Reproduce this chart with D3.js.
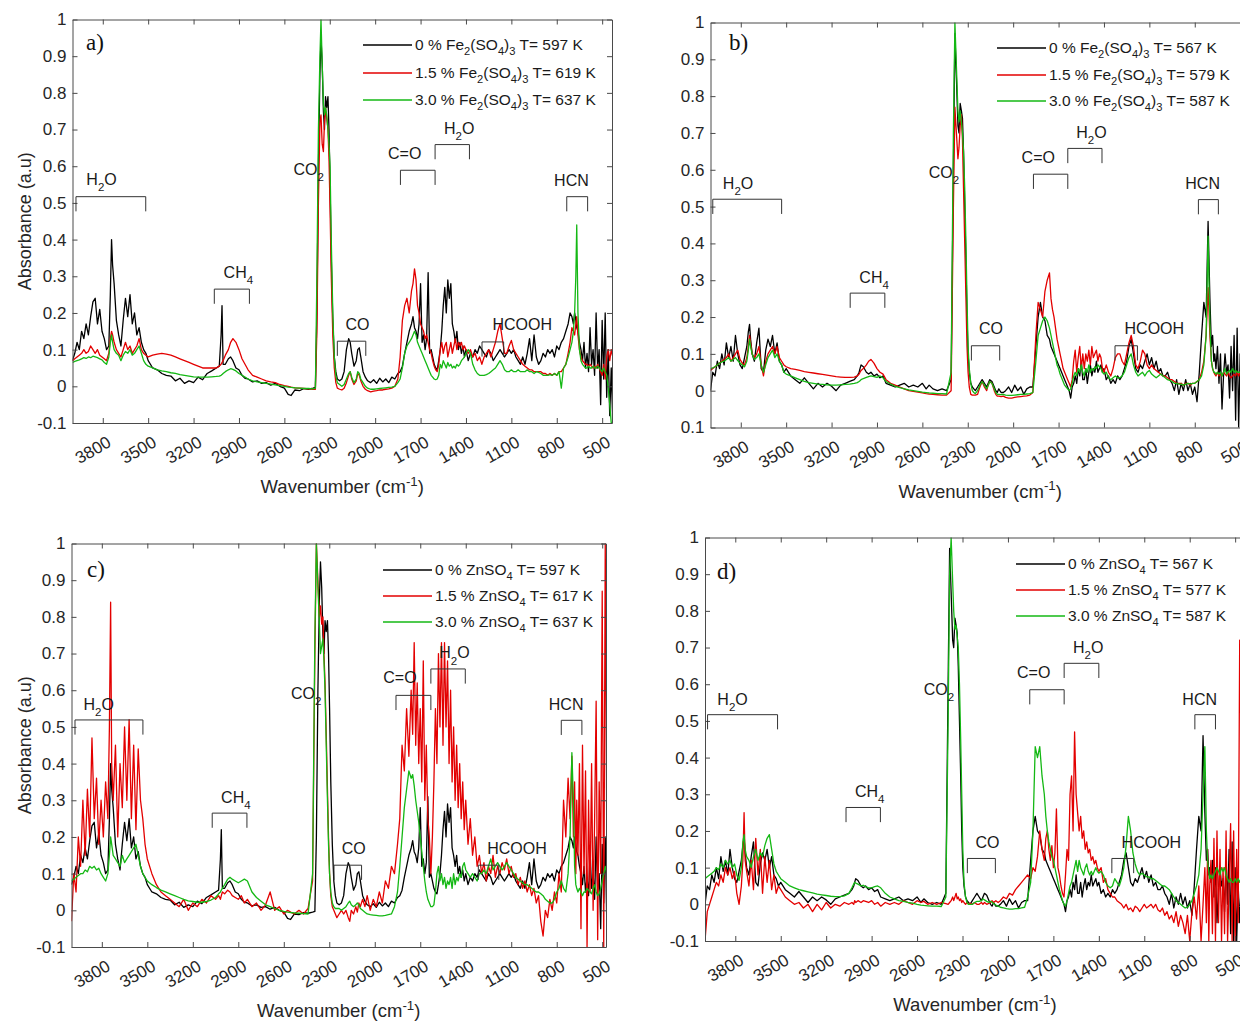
<!DOCTYPE html>
<html><head><meta charset="utf-8">
<script src="https://cdn.jsdelivr.net/npm/d3@7"></script>
<style>
body{margin:0;background:#fff}
text{white-space:pre}
</style>
</head><body>
<svg id="chart" width="1240" height="1021" xmlns="http://www.w3.org/2000/svg" font-family='"Liberation Sans", Arial, Helvetica, sans-serif'></svg>
<script>
// ---------------- DATA ----------------
const wavenumber = [
4000,3985,3970,3955,3940,3925,3910,3895,3880,3865,
3850,3835,3820,3805,3790,3775,3760,3750,3742,3735,
3725,3710,3695,3680,3665,3650,3635,3620,3605,3590,
3575,3560,3545,3530,3515,3500,3470,3440,3410,3380,
3350,3320,3290,3260,3230,3200,3170,3140,3110,3080,
3050,3030,3018,3012,3005,2990,2970,2955,2940,2920,
2900,2880,2860,2840,2810,2780,2750,2720,2690,2660,
2630,2600,2575,2555,2530,2500,2470,2440,2410,2395,
2385,2375,2365,2358,2350,2342,2335,2328,2320,2312,
2305,2298,2290,2280,2270,2260,2250,2235,2220,2205,
2190,2175,2165,2155,2140,2125,2115,2105,2095,2080,
2065,2050,2030,2010,1990,1970,1950,1930,1910,1890,
1870,1850,1835,1820,1805,1790,1775,1760,1750,1740,
1730,1720,1710,1700,1690,1680,1670,1660,1650,1640,
1630,1620,1610,1600,1590,1580,1570,1560,1550,1540,
1530,1520,1510,1500,1490,1480,1470,1460,1450,1440,
1430,1420,1410,1400,1385,1370,1355,1340,1325,1310,
1295,1280,1265,1250,1235,1220,1205,1190,1175,1160,
1145,1130,1115,1100,1085,1070,1055,1040,1025,1010,
995,980,965,950,935,920,905,890,875,860,
845,830,815,800,785,770,755,740,725,712,
700,690,682,674,668,660,650,640,630,620,
610,600,590,580,570,560,550,540,530,520,
510,500,490,480,470,460,450,440,430,420];

// a) 0 % Fe2(SO4)3, T = 597 K  (same run as 0 % ZnSO4, 597 K)
const fe0_597 = [
0.07,0.09,0.12,0.10,0.15,0.13,0.17,0.14,0.19,0.23,
0.24,0.17,0.21,0.15,0.13,0.10,0.11,0.25,0.40,0.33,
0.28,0.18,0.14,0.11,0.18,0.24,0.19,0.25,0.17,0.20,
0.14,0.16,0.12,0.10,0.09,0.07,0.05,0.045,0.035,0.03,
0.028,0.015,0.022,0.008,0.015,0.01,0.025,0.018,0.035,0.042,
0.05,0.055,0.14,0.22,0.06,0.06,0.075,0.08,0.07,0.05,
0.045,0.03,0.022,0.02,0.012,0.015,0.008,0.01,0.003,0.008,
0.0,-0.005,-0.022,-0.025,-0.01,-0.012,-0.006,-0.008,-0.005,-0.003,
0.2,0.6,0.85,0.95,0.88,0.75,0.7,0.79,0.76,0.79,
0.7,0.55,0.35,0.18,0.08,0.04,0.02,0.015,0.02,0.04,
0.10,0.13,0.12,0.09,0.055,0.07,0.10,0.105,0.08,0.04,
0.025,0.015,0.01,0.018,0.008,0.022,0.012,0.02,0.01,0.025,
0.02,0.035,0.04,0.055,0.09,0.12,0.15,0.17,0.19,0.16,
0.15,0.13,0.17,0.28,0.12,0.14,0.10,0.13,0.31,0.09,
0.10,0.08,0.06,0.05,0.045,0.07,0.10,0.15,0.22,0.27,
0.20,0.29,0.24,0.28,0.17,0.15,0.12,0.15,0.10,0.12,
0.09,0.11,0.08,0.10,0.07,0.09,0.08,0.10,0.09,0.11,
0.10,0.09,0.08,0.10,0.09,0.07,0.08,0.09,0.10,0.09,
0.08,0.09,0.10,0.09,0.10,0.08,0.07,0.06,0.08,0.06,
0.09,0.13,0.07,0.14,0.08,0.06,0.07,0.09,0.08,0.10,
0.09,0.10,0.08,0.11,0.10,0.12,0.13,0.15,0.17,0.20,
0.19,0.17,0.20,0.18,0.16,0.15,0.12,0.10,0.07,0.12,
0.05,0.09,0.04,0.16,0.06,0.10,0.03,0.20,0.05,0.10,
-0.05,0.18,0.02,0.20,-0.03,0.10,-0.08,0.05,-0.10,-0.10];

const fe15_619 = [
0.07,0.075,0.08,0.085,0.09,0.1,0.09,0.095,0.11,0.1,
0.09,0.1,0.085,0.08,0.075,0.07,0.09,0.13,0.15,0.14,
0.12,0.1,0.09,0.08,0.1,0.12,0.1,0.11,0.09,0.1,
0.11,0.13,0.1,0.09,0.085,0.08,0.085,0.088,0.09,0.088,
0.085,0.08,0.075,0.07,0.065,0.06,0.055,0.05,0.05,0.05,
0.05,0.055,0.06,0.065,0.07,0.085,0.1,0.12,0.13,0.12,
0.1,0.075,0.06,0.045,0.03,0.025,0.02,0.015,0.012,0.01,
0.005,0.002,0.0,-0.002,-0.004,-0.005,-0.006,-0.007,-0.008,-0.008,
0.15,0.5,0.72,0.74,0.66,0.64,0.72,0.76,0.73,0.7,
0.62,0.48,0.3,0.14,0.05,0.01,-0.005,-0.008,-0.01,-0.005,
0.01,0.03,0.04,0.02,0.005,0.015,0.035,0.03,0.015,0.0,
-0.008,-0.012,-0.015,-0.013,-0.012,-0.01,-0.01,-0.008,-0.007,-0.005,
0.0,0.02,0.08,0.18,0.22,0.24,0.2,0.26,0.28,0.32,
0.29,0.22,0.2,0.17,0.16,0.15,0.13,0.14,0.12,0.1,
0.09,0.07,0.055,0.045,0.04,0.06,0.1,0.12,0.09,0.11,
0.12,0.08,0.1,0.12,0.09,0.11,0.13,0.1,0.12,0.11,
0.12,0.1,0.11,0.1,0.09,0.1,0.08,0.09,0.07,0.08,
0.06,0.08,0.09,0.1,0.08,0.1,0.12,0.15,0.17,0.13,
0.09,0.09,0.11,0.125,0.1,0.09,0.08,0.07,0.06,0.055,
0.05,0.045,0.045,0.04,0.04,0.04,0.04,0.035,0.035,0.03,
0.035,0.03,0.035,0.03,0.04,0.04,0.05,0.06,0.09,0.12,
0.16,0.15,0.14,0.17,0.19,0.14,0.1,0.08,0.07,0.065,
0.06,0.06,0.055,0.06,0.055,0.05,0.055,0.05,0.06,0.05,
0.04,0.03,0.06,0.02,0.08,0.1,0.07,0.1,0.08,0.08];

const fe30_637 = [
0.065,0.068,0.07,0.072,0.075,0.078,0.076,0.08,0.078,0.082,
0.08,0.078,0.075,0.072,0.065,0.06,0.08,0.12,0.14,0.12,
0.1,0.09,0.085,0.07,0.085,0.095,0.09,0.1,0.085,0.09,
0.1,0.11,0.09,0.07,0.06,0.055,0.05,0.045,0.042,0.04,
0.037,0.035,0.032,0.03,0.028,0.026,0.025,0.025,0.025,0.026,
0.027,0.028,0.03,0.032,0.035,0.04,0.045,0.048,0.046,0.042,
0.035,0.03,0.025,0.02,0.015,0.012,0.01,0.008,0.006,0.004,
0.002,0.0,-0.002,-0.003,-0.004,-0.005,-0.006,-0.006,-0.007,-0.005,
0.3,0.7,0.9,1.0,0.88,0.77,0.74,0.76,0.74,0.7,
0.66,0.6,0.4,0.2,0.08,0.03,0.01,0.005,0.0,0.005,
0.02,0.035,0.04,0.025,0.01,0.02,0.04,0.035,0.02,0.01,
0.0,-0.005,-0.008,-0.008,-0.007,-0.006,-0.005,-0.004,-0.003,-0.002,
0.0,0.01,0.02,0.05,0.09,0.11,0.12,0.13,0.14,0.15,
0.14,0.12,0.11,0.1,0.09,0.08,0.07,0.06,0.05,0.04,
0.03,0.025,0.02,0.018,0.02,0.03,0.06,0.05,0.07,0.06,
0.05,0.065,0.055,0.06,0.05,0.055,0.05,0.06,0.055,0.06,
0.07,0.075,0.08,0.09,0.1,0.09,0.06,0.045,0.035,0.03,
0.03,0.03,0.032,0.035,0.04,0.045,0.05,0.06,0.07,0.06,
0.045,0.04,0.04,0.045,0.04,0.04,0.045,0.04,0.04,0.04,
0.045,0.04,0.04,0.035,0.04,0.038,0.035,0.03,0.03,0.03,
0.032,0.03,0.035,0.03,0.04,-0.005,0.05,0.06,0.08,0.1,
0.12,0.15,0.2,0.3,0.44,0.2,0.1,0.07,0.06,0.055,
0.05,0.05,0.055,0.05,0.05,0.055,0.05,0.05,0.055,0.05,
0.045,0.04,0.05,0.04,0.03,0.0,-0.05,-0.1,-0.1,-0.1];

// b) 0 % Fe2(SO4)3, T = 567 K  (same run as 0 % ZnSO4, 567 K)
const fe0_567 = [
0.0,0.05,0.04,0.08,0.06,0.1,0.07,0.13,0.09,0.12,
0.08,0.15,0.1,0.07,0.06,0.09,0.12,0.16,0.18,0.14,
0.1,0.08,0.13,0.17,0.06,0.05,0.11,0.14,0.12,0.15,
0.1,0.13,0.08,0.07,0.05,0.06,0.04,0.03,0.02,0.035,
0.02,0.005,0.02,0.01,0.02,0.012,0.0,0.015,0.02,0.025,
0.03,0.04,0.05,0.06,0.07,0.065,0.05,0.045,0.05,0.04,
0.045,0.035,0.04,0.02,0.015,0.01,0.015,0.02,0.01,0.015,
0.01,0.02,0.005,0.015,0.005,0.0,0.005,0.0,0.03,0.6,
0.97,0.85,0.72,0.7,0.78,0.76,0.74,0.65,0.5,0.35,
0.2,0.1,0.05,0.02,0.01,0.005,0.0,0.01,0.02,0.03,
0.02,0.01,0.02,0.03,0.025,0.01,0.0,-0.005,0.005,-0.005,
-0.005,0.0,0.01,-0.005,0.015,0.0,0.01,-0.01,0.005,0.01,
0.01,0.12,0.2,0.24,0.2,0.19,0.15,0.14,0.12,0.11,
0.1,0.09,0.08,0.07,0.06,0.05,0.04,0.03,0.02,0.01,
0.0,-0.02,0.01,0.02,0.04,0.02,0.06,0.04,0.08,0.03,
0.03,0.06,0.02,0.05,0.07,0.04,0.06,0.05,0.08,0.05,
0.06,0.07,0.05,0.06,0.03,0.04,0.02,0.03,0.02,0.04,
0.03,0.04,0.06,0.08,0.12,0.14,0.1,0.06,0.05,0.07,
0.06,0.08,0.1,0.07,0.09,0.06,0.08,0.05,0.06,0.04,
0.04,0.05,0.03,0.02,0.0,0.03,-0.01,0.02,0.0,0.03,
0.0,0.02,-0.01,0.01,-0.03,0.05,0.15,0.24,0.2,0.46,
0.25,0.12,0.15,0.08,0.1,0.06,0.12,0.02,0.1,-0.05,
0.04,0.1,0.05,0.07,-0.02,0.12,0.0,0.15,-0.08,0.17,
-0.1,0.1,-0.1,0.05,-0.05,0.06,0.03,0.05,0.04,0.06];

const fe15_579 = [
0.055,0.06,0.065,0.07,0.075,0.08,0.085,0.09,0.1,0.08,
0.09,0.1,0.11,0.085,0.075,0.07,0.09,0.12,0.15,0.13,
0.1,0.09,0.1,0.12,0.07,0.04,0.08,0.1,0.11,0.12,
0.1,0.12,0.09,0.08,0.07,0.065,0.06,0.058,0.055,0.052,
0.05,0.048,0.046,0.044,0.042,0.04,0.038,0.037,0.036,0.036,
0.037,0.04,0.045,0.05,0.055,0.06,0.07,0.08,0.085,0.075,
0.06,0.05,0.045,0.03,0.02,0.015,0.01,0.005,0.0,-0.002,
-0.004,-0.006,-0.008,-0.009,-0.01,-0.011,-0.012,-0.012,0.0,0.5,
0.77,0.7,0.63,0.66,0.72,0.75,0.68,0.55,0.4,0.25,
0.12,0.05,0.01,-0.01,-0.012,-0.012,-0.012,-0.01,0.01,0.025,
0.01,0.0,0.015,0.025,0.02,0.0,-0.01,-0.015,-0.015,-0.016,
-0.015,-0.018,-0.02,-0.02,-0.018,-0.017,-0.016,-0.015,-0.014,-0.012,
-0.005,0.15,0.24,0.22,0.2,0.27,0.3,0.32,0.25,0.22,
0.2,0.17,0.14,0.12,0.1,0.08,0.06,0.05,0.04,0.03,
0.02,0.01,0.03,0.08,0.11,0.05,0.09,0.12,0.06,0.1,
0.06,0.1,0.08,0.11,0.07,0.12,0.09,0.1,0.11,0.08,
0.1,0.09,0.06,0.05,0.07,0.05,0.04,0.06,0.09,0.1,
0.1,0.08,0.07,0.1,0.13,0.15,0.12,0.07,0.06,0.08,
0.11,0.1,0.07,0.06,0.07,0.06,0.055,0.05,0.045,0.04,
0.04,0.035,0.03,0.03,0.025,0.02,0.02,0.02,0.015,0.02,
0.02,0.015,0.02,0.02,0.025,0.03,0.05,0.08,0.15,0.28,
0.15,0.08,0.06,0.05,0.045,0.04,0.05,0.04,0.045,0.04,
0.05,0.045,0.04,0.05,0.04,0.035,0.04,0.045,0.04,0.05,
0.04,0.05,0.04,0.05,0.04,0.05,0.04,0.05,0.04,0.05];

const fe30_587 = [
0.06,0.062,0.065,0.07,0.075,0.078,0.08,0.085,0.09,0.08,
0.085,0.09,0.082,0.075,0.07,0.065,0.08,0.11,0.14,0.12,
0.1,0.085,0.09,0.1,0.07,0.05,0.07,0.09,0.1,0.11,
0.09,0.1,0.08,0.07,0.05,0.045,0.04,0.035,0.03,0.025,
0.022,0.02,0.018,0.017,0.016,0.015,0.015,0.016,0.017,0.018,
0.02,0.022,0.025,0.027,0.03,0.033,0.036,0.038,0.04,0.038,
0.036,0.04,0.035,0.025,0.018,0.012,0.008,0.005,0.002,0.0,
-0.002,-0.004,-0.005,-0.006,-0.007,-0.008,-0.008,-0.009,0.05,0.7,
1.0,0.88,0.76,0.73,0.76,0.73,0.7,0.65,0.55,0.4,
0.25,0.12,0.06,0.02,0.0,-0.005,-0.008,0.0,0.015,0.025,
0.015,0.005,0.015,0.025,0.02,0.005,-0.005,-0.01,-0.01,-0.011,
-0.01,-0.012,-0.013,-0.013,-0.012,-0.011,-0.01,-0.01,-0.009,-0.008,
-0.005,0.08,0.15,0.17,0.19,0.2,0.19,0.17,0.15,0.13,
0.11,0.09,0.07,0.06,0.045,0.035,0.025,0.015,0.01,0.005,
0.0,0.005,0.02,0.04,0.05,0.04,0.06,0.05,0.07,0.05,
0.04,0.06,0.05,0.07,0.05,0.06,0.055,0.065,0.06,0.07,
0.065,0.06,0.05,0.045,0.05,0.035,0.03,0.035,0.04,0.035,
0.035,0.04,0.05,0.07,0.09,0.1,0.07,0.05,0.04,0.045,
0.05,0.04,0.05,0.055,0.045,0.04,0.035,0.04,0.045,0.04,
0.035,0.03,0.028,0.025,0.02,0.02,0.018,0.018,0.015,0.018,
0.02,0.018,0.02,0.02,0.025,0.03,0.04,0.07,0.15,0.42,
0.18,0.08,0.06,0.05,0.05,0.045,0.05,0.045,0.05,0.04,
0.05,0.06,0.045,0.05,0.055,0.05,0.06,0.05,0.055,0.05,
0.05,0.05,0.05,0.05,0.05,0.05,0.05,0.05,0.05,0.05];

// c) ZnSO4 series (0 % run at 597 K is the same measurement as panel a)
const zn0_597 = fe0_597;

const zn15_617 = [
-0.03,0.1,0.05,0.2,0.12,0.3,0.15,0.33,0.2,0.47,
0.25,0.36,0.18,0.3,0.2,0.35,0.25,0.5,0.84,0.4,
0.3,0.45,0.2,0.4,0.28,0.5,0.3,0.52,0.25,0.45,
0.22,0.44,0.3,0.25,0.18,0.14,0.1,0.07,0.05,0.04,
0.03,0.02,0.01,0.03,0.0,0.02,0.01,0.03,0.02,0.04,
0.03,0.04,0.03,0.04,0.05,0.045,0.055,0.05,0.04,0.035,
0.03,0.04,0.02,0.03,0.01,0.02,0.0,0.015,0.05,0.0,
0.01,-0.01,0.0,-0.005,-0.01,0.0,-0.01,0.005,0.08,0.7,
1.0,0.9,0.8,0.83,0.78,0.8,0.7,0.62,0.48,0.33,
0.2,0.1,0.04,0.01,0.0,-0.01,-0.02,-0.01,0.0,-0.01,
0.0,-0.02,-0.03,0.0,-0.01,0.01,-0.005,0.02,0.01,0.03,
0.01,0.04,0.0,0.03,0.01,0.05,0.02,0.08,0.06,0.12,
0.1,0.18,0.25,0.45,0.38,0.55,0.42,0.6,0.48,0.73,
0.45,0.62,0.4,0.55,0.35,0.68,0.3,0.45,0.25,0.2,
0.1,0.2,0.35,0.55,0.4,0.7,0.5,0.73,0.45,0.73,
0.5,0.68,0.4,0.6,0.35,0.5,0.3,0.45,0.28,0.4,
0.25,0.35,0.22,0.3,0.18,0.25,0.15,0.2,0.12,0.15,
0.1,0.13,0.08,0.12,0.1,0.15,0.09,0.12,0.1,0.13,
0.11,0.14,0.1,0.12,0.09,0.1,0.07,0.09,0.06,0.08,
0.05,0.07,0.04,0.06,0.02,0.04,-0.03,-0.07,0.0,-0.02,
0.03,0.0,0.05,0.02,0.1,0.05,0.3,0.2,0.36,0.25,
0.42,0.2,0.35,0.1,0.3,0.15,0.4,-0.05,0.45,0.1,
0.38,-0.1,0.3,0.05,0.4,0.0,0.25,0.57,-0.08,0.35,
0.1,0.87,-0.1,1.0,0.2,0.1,0.1,0.1,0.1,0.1];

const zn30_637 = [
0.08,0.085,0.09,0.095,0.1,0.1,0.11,0.105,0.12,0.115,
0.12,0.11,0.115,0.1,0.09,0.08,0.1,0.15,0.2,0.18,
0.15,0.14,0.13,0.12,0.15,0.13,0.14,0.15,0.16,0.17,
0.18,0.15,0.12,0.1,0.09,0.08,0.07,0.062,0.055,0.05,
0.045,0.04,0.035,0.03,0.026,0.024,0.022,0.022,0.024,0.028,
0.035,0.045,0.05,0.055,0.06,0.07,0.085,0.09,0.085,0.08,
0.075,0.08,0.085,0.08,0.05,0.035,0.025,0.015,0.01,0.005,
0.0,-0.003,-0.005,-0.006,-0.007,-0.008,-0.009,-0.01,0.1,0.75,
1.0,0.88,0.78,0.7,0.72,0.74,0.68,0.6,0.45,0.3,
0.18,0.1,0.05,0.02,0.01,0.005,0.005,0.005,0.0,0.005,
0.01,0.02,0.025,0.015,0.01,0.015,0.02,0.015,0.005,0.0,
-0.005,-0.01,-0.012,-0.013,-0.014,-0.015,-0.015,-0.014,-0.012,-0.01,
0.01,0.05,0.12,0.2,0.28,0.33,0.38,0.36,0.37,0.34,
0.3,0.27,0.24,0.2,0.16,0.12,0.08,0.05,0.03,0.02,
0.01,0.01,0.015,0.05,0.1,0.12,0.08,0.1,0.07,0.09,
0.06,0.08,0.07,0.09,0.06,0.1,0.07,0.09,0.08,0.1,
0.09,0.12,0.13,0.11,0.1,0.09,0.1,0.09,0.08,0.1,
0.1,0.11,0.1,0.12,0.14,0.11,0.12,0.13,0.12,0.11,
0.12,0.13,0.12,0.11,0.1,0.09,0.085,0.08,0.075,0.07,
0.07,0.065,0.06,0.055,0.05,0.05,0.045,0.04,0.03,0.025,
0.02,0.02,0.03,0.05,0.06,0.08,0.06,0.05,0.1,0.2,
0.43,0.3,0.12,0.07,0.06,0.05,0.06,0.05,0.04,0.05,
0.05,0.06,0.055,0.05,0.045,0.06,0.07,0.05,0.04,0.045,
0.06,0.08,0.1,0.12,0.1,0.1,0.1,0.1,0.1,0.1];

// d) ZnSO4 series (0 % run at 567 K is the same measurement as panel b)
const zn0_567 = fe0_567;

const zn15_577 = [
-0.1,-0.02,0.0,0.02,0.04,0.06,0.05,0.08,0.06,0.1,
0.08,0.1,0.07,0.09,0.03,0.0,0.05,0.12,0.25,0.12,
0.09,0.05,0.12,0.04,0.18,0.08,0.15,0.03,0.13,0.06,
0.12,0.04,0.08,0.03,0.05,0.04,0.02,0.01,0.0,0.005,
-0.01,0.0,-0.02,0.0,-0.015,0.005,-0.01,0.0,-0.005,0.005,
0.0,0.005,0.0,0.01,0.005,0.01,0.005,0.01,0.008,0.005,
0.01,0.0,0.005,-0.005,0.005,0.0,0.005,0.0,0.01,0.005,
0.0,0.01,0.005,0.008,0.0,0.005,0.0,0.005,0.002,0.0,
0.005,0.01,0.02,0.01,0.02,0.03,0.015,0.02,0.01,0.015,
0.005,0.01,0.005,0.0,0.005,0.0,0.003,0.0,0.005,0.0,
0.0,0.005,0.0,0.005,0.0,0.003,0.005,0.01,0.005,0.01,
0.005,0.01,0.02,0.015,0.03,0.025,0.04,0.05,0.06,0.07,
0.08,0.07,0.1,0.09,0.13,0.2,0.15,0.12,0.18,0.2,
0.15,0.12,0.16,0.1,0.14,0.26,0.1,0.08,0.05,0.03,
0.02,0.08,0.15,0.12,0.3,0.35,0.2,0.47,0.3,0.25,
0.2,0.24,0.18,0.2,0.15,0.17,0.14,0.15,0.12,0.13,
0.11,0.12,0.1,0.09,0.1,0.06,0.07,0.04,0.03,0.02,
0.02,0.01,0.005,0.0,-0.01,0.0,-0.015,-0.01,-0.02,-0.005,
-0.01,-0.02,-0.01,0.0,-0.01,-0.005,0.0,-0.01,0.0,-0.015,
-0.02,-0.01,-0.03,-0.02,-0.04,-0.03,-0.05,-0.02,-0.06,-0.03,
-0.05,-0.08,-0.03,-0.1,-0.02,0.02,-0.04,0.05,-0.1,0.0,
0.1,-0.05,0.15,-0.1,0.05,0.12,-0.08,0.18,-0.1,0.2,
-0.05,0.15,-0.1,0.1,-0.08,0.2,-0.1,0.05,0.22,-0.1,
0.2,-0.1,0.15,-0.05,0.72,0.4,0.5,0.5,0.5,0.5];

const zn30_587 = [
0.07,0.075,0.08,0.085,0.09,0.1,0.095,0.11,0.1,0.12,
0.11,0.12,0.1,0.11,0.08,0.065,0.1,0.17,0.19,0.15,
0.13,0.12,0.1,0.13,0.15,0.12,0.14,0.13,0.16,0.18,
0.19,0.15,0.11,0.09,0.08,0.07,0.06,0.05,0.045,0.04,
0.037,0.034,0.031,0.028,0.026,0.024,0.022,0.021,0.021,0.023,
0.03,0.045,0.055,0.06,0.058,0.055,0.05,0.052,0.048,0.045,
0.045,0.048,0.05,0.045,0.03,0.02,0.015,0.01,0.008,0.005,
0.003,0.0,-0.002,-0.003,-0.004,-0.005,-0.005,-0.006,0.02,0.5,
0.9,1.0,0.88,0.8,0.75,0.76,0.73,0.7,0.6,0.45,
0.3,0.15,0.06,0.02,0.005,0.0,0.0,0.0,0.005,0.008,
0.008,0.01,0.015,0.012,0.008,0.005,0.008,0.006,0.002,-0.002,
-0.005,-0.008,-0.01,-0.012,-0.013,-0.013,-0.012,-0.012,-0.01,-0.008,
0.02,0.06,0.2,0.43,0.4,0.43,0.35,0.3,0.24,0.2,
0.17,0.15,0.13,0.12,0.1,0.08,0.06,0.04,0.025,0.01,
0.0,-0.005,0.01,0.03,0.05,0.06,0.08,0.1,0.12,0.09,
0.12,0.1,0.09,0.08,0.1,0.11,0.09,0.08,0.09,0.08,
0.09,0.1,0.09,0.085,0.09,0.08,0.06,0.05,0.045,0.05,
0.07,0.06,0.05,0.07,0.1,0.16,0.24,0.2,0.14,0.11,
0.09,0.08,0.085,0.08,0.075,0.075,0.07,0.07,0.065,0.06,
0.055,0.05,0.05,0.045,0.04,0.03,0.02,0.01,0.005,0.0,
-0.005,-0.01,-0.008,0.0,0.01,0.03,0.05,0.08,0.15,0.3,
0.43,0.2,0.12,0.09,0.07,0.08,0.07,0.08,0.09,0.1,
0.09,0.08,0.1,0.09,0.1,0.08,0.07,0.06,0.07,0.06,
0.06,0.07,0.06,0.07,0.06,0.07,0.06,0.07,0.06,0.07];

const xTicks = [3800,3500,3200,2900,2600,2300,2000,1700,1400,1100,800,500];
const yTicks = [1,0.9,0.8,0.7,0.6,0.5,0.4,0.3,0.2,0.1,0,-0.1];

const legendFeA = ["0 % Fe_2(SO_4)_3 T= 597 K","1.5 % Fe_2(SO_4)_3 T= 619 K","3.0 % Fe_2(SO_4)_3 T= 637 K"];
const legendFeB = ["0 % Fe_2(SO_4)_3 T= 567 K","1.5 % Fe_2(SO_4)_3 T= 579 K","3.0 % Fe_2(SO_4)_3 T= 587 K"];
const legendZnC = ["0 % ZnSO_4 T= 597 K","1.5 % ZnSO_4 T= 617 K","3.0 % ZnSO_4 T= 637 K"];
const legendZnD = ["0 % ZnSO_4 T= 567 K","1.5 % ZnSO_4 T= 577 K","3.0 % ZnSO_4 T= 587 K"];

// band labels: [label, bracket start, bracket end, bracket level, label x, label y] in data units
const bandsA = [["H_2O",3977,3516,0.517,3808,0.565],["CH_4",3063,2831,0.265,2904,0.311],["CO_2",null,null,null,2440,0.592],
  ["CO",2250,2062,0.123,2117,0.17],["C=O",1833,1604,0.589,1805,0.637],["H_2O",1604,1377,0.659,1445,0.704],
  ["HCOOH",1294,1151,0.121,1028,0.17],["HCN",734,596,0.517,703,0.562]];
const bandsB = [["H_2O",3985,3530,0.52,3818,0.564],["CH_4",3077,2848,0.265,2919,0.31],["CO_2",null,null,null,2458,0.593],
  ["CO",2276,2089,0.122,2146,0.169],["C=O",1866,1639,0.588,1834,0.636],["H_2O",1639,1413,0.658,1483,0.703],
  ["HCOOH",1327,1179,0.122,1067,0.169],["HCN",776,644,0.519,748,0.564]];
const bandsC = [["H_2O",3977,3529,0.519,3821,0.563],["CH_4",3072,2843,0.265,2916,0.31],["CO_2",null,null,null,2452,0.593],
  ["CO",2269,2087,0.123,2139,0.17],["C=O",1860,1630,0.586,1834,0.636],["H_2O",1630,1403,0.658,1474,0.703],
  ["HCOOH",1317,1182,0.123,1062,0.17],["HCN",770,634,0.518,738,0.563]];
const bandsD = [["H_2O",3983,3521,0.517,3818,0.56],["CH_4",3069,2842,0.264,2913,0.309],["CO_2",null,null,null,2456,0.588],
  ["CO",2268,2083,0.125,2135,0.171],["C=O",1856,1629,0.585,1830,0.634],["H_2O",1629,1400,0.657,1470,0.702],
  ["HCOOH",1314,1170,0.125,1053,0.171],["HCN",766,630,0.517,734,0.56]];

// ---------------- DRAWING ----------------
const colors = ["#000000","#e30000","#14b814"];
const svg = d3.select("#chart");
const TXT = "#262626";
const SANS = '"Liberation Sans", Arial, Helvetica, sans-serif';
const SERIF = '"Liberation Serif", "DejaVu Serif", "Times New Roman", serif';

[fe0_597,fe15_619,fe30_637,fe0_567,fe15_579,fe30_587,zn15_617,zn30_637,zn15_577,zn30_587].forEach((s,i)=>{
  if (s.length !== wavenumber.length) console.error("series", i, "length", s.length, "vs", wavenumber.length);
});

// text with _x subscripts and ^{..} superscripts
function rich(sel, str, size, k) {
  k = k || 0.32;
  const re = /([_^])(\{[^}]*\}|.)/g;
  let last = 0, m; const parts = [];
  while ((m = re.exec(str))) {
    if (m.index > last) parts.push({t: str.slice(last, m.index), s: 0});
    let t = m[2]; if (t[0] === "{") t = t.slice(1, -1);
    parts.push({t, s: m[1] === "_" ? 1 : -1});
    last = re.lastIndex;
  }
  if (last < str.length) parts.push({t: str.slice(last), s: 0});
  let cur = 0;
  parts.forEach(p => {
    const off = p.s * size * (p.s > 0 ? k : 0.4);
    const ts = sel.append("tspan").text(p.t).attr("dy", off - cur);
    if (p.s) ts.attr("font-size", size * 0.72);
    cur = off;
  });
}

const panels = [
  {key:"a", letter:"a)", series:[fe0_597,fe15_619,fe30_637], legend:legendFeA, bands:bandsA,
   left:72.5, right:612, top:19.5, bottom:423, xEnd:435, ylab:true, legX:363, legY:[45,73,100], letXY:[86,50]},
  {key:"b", letter:"b)", series:[fe0_567,fe15_579,fe30_587], legend:legendFeB, bands:bandsB,
   left:710.5, right:1250, top:22.5, bottom:427.5, xEnd:435, ylab:false, legX:997, legY:[48,75,101], letXY:[729,50],
   yFmt: d => d === -0.1 ? "0.1" : String(d)},
  {key:"c", letter:"c)", series:[zn0_597,zn15_617,zn30_637], legend:legendZnC, bands:bandsC,
   left:71.5, right:606, top:543.5, bottom:947, xEnd:475, ylab:true, legX:383, legY:[570,596,622], letXY:[87,577]},
  {key:"d", letter:"d)", series:[zn0_567,zn15_577,zn30_587], legend:legendZnD, bands:bandsD,
   left:705, right:1245, top:537.5, bottom:941, xEnd:435, ylab:false, legX:1016, legY:[564,590,616], letXY:[717,579]}
];

panels.forEach(p => {
  const x = d3.scaleLinear().domain([4000, p.xEnd]).range([p.left, p.right]);
  const y = d3.scaleLinear().domain([-0.1, 1]).range([p.bottom, p.top]);
  const g = svg.append("g");
  const clipId = "clip-" + p.key;
  svg.append("clipPath").attr("id", clipId).append("rect")
    .attr("x", p.left).attr("y", p.top).attr("width", p.right - p.left).attr("height", p.bottom - p.top);

  // spectra
  const line = d3.line().x(d => x(d[0])).y(d => y(d[1]));
  p.series.forEach((s, i) => {
    g.append("path").datum(d3.zip(wavenumber, s))
      .attr("clip-path", `url(#${clipId})`)
      .attr("fill", "none").attr("stroke", colors[i]).attr("stroke-width", 1.3)
      .attr("stroke-linejoin", "round").attr("d", line);
  });

  // axes (box with inward ticks)
  const fmt = p.yFmt || (d => String(d));
  const ax = g.append("g");
  const bx = ax.append("g").attr("transform", `translate(0,${p.bottom})`)
    .call(d3.axisBottom(x).tickValues(xTicks).tickSizeInner(-5).tickSizeOuter(0).tickFormat(d => String(d)));
  bx.selectAll("text").attr("x", 0).attr("y", 0).attr("dy", "0.71em")
    .attr("transform", "translate(3,12) rotate(-30)").attr("text-anchor", "end");
  ax.append("g").attr("transform", `translate(0,${p.top})`)
    .call(d3.axisTop(x).tickValues(xTicks).tickSizeInner(-5).tickSizeOuter(0).tickFormat(""));
  ax.append("g").attr("transform", `translate(${p.left},0)`)
    .call(d3.axisLeft(y).tickValues(yTicks).tickSizeInner(-5).tickSizeOuter(0).tickPadding(6).tickFormat(fmt));
  ax.append("g").attr("transform", `translate(${p.right},0)`)
    .call(d3.axisRight(y).tickValues(yTicks).tickSizeInner(-5).tickSizeOuter(0).tickFormat(""));
  ax.selectAll(".domain, .tick line").attr("stroke", "#4a4a4a").attr("stroke-width", 1);
  ax.selectAll("g").attr("font-family", SANS);
  ax.selectAll("text").attr("fill", TXT).attr("font-size", 17).style("font-family", SANS);

  // axis titles
  const xt = g.append("text").attr("x", (p.left + p.right) / 2).attr("y", p.bottom + 70)
    .attr("text-anchor", "middle").attr("font-size", 18.5).attr("fill", TXT).style("font-family", SANS);
  rich(xt, "Wavenumber (cm^{-1})", 18.5);
  if (p.ylab) {
    g.append("text").attr("transform", `translate(31,${(p.top + p.bottom) / 2}) rotate(-90)`)
      .attr("text-anchor", "middle").attr("font-size", 18).attr("fill", TXT).style("font-family", SANS)
      .text("Absorbance (a.u)");
  }

  // panel letter
  g.append("text").attr("x", p.letXY[0]).attr("y", p.letXY[1])
    .style("font-family", SERIF).attr("font-size", 23)
    .attr("fill", "#111").text(p.letter);

  // band annotations
  p.bands.forEach(b => {
    const [label, x1, x2, lev, lx, ly] = b;
    if (x1 !== null) {
      g.append("path")
        .attr("d", `M${x(x1)},${y(lev - 0.04)}V${y(lev)}H${x(x2)}V${y(lev - 0.04)}`)
        .attr("fill", "none").attr("stroke", "#333").attr("stroke-width", 1);
    }
    const t = g.append("text").attr("x", x(lx)).attr("y", y(ly) + 6).style("font-family", SANS)
      .attr("text-anchor", "middle").attr("font-size", 16).attr("fill", "#1a1a1a");
    rich(t, label, 16, 0.38);
  });

  // legend
  p.legend.forEach((lab, i) => {
    const ly = p.legY[i];
    g.append("line").attr("x1", p.legX).attr("x2", p.legX + 49).attr("y1", ly).attr("y2", ly)
      .attr("stroke", colors[i]).attr("stroke-width", 1.6);
    const t = g.append("text").attr("x", p.legX + 52).attr("y", ly + 5).style("font-family", SANS)
      .attr("font-size", 15.5).attr("fill", "#1a1a1a");
    rich(t, lab, 15.5, 0.32);
  });
});
</script>
</body></html>
